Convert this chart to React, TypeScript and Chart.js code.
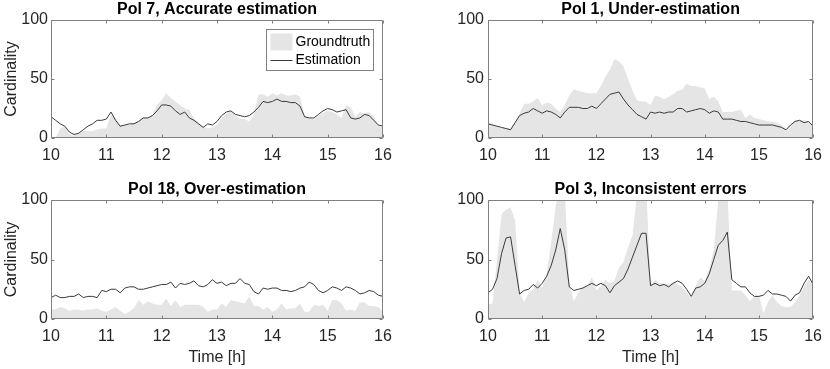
import React, { useEffect, useRef } from "react";
import { Chart, registerables } from "chart.js";

Chart.register(...registerables);

// ---- data (cardinality sampled every 5 minutes, 10:00 - 16:00) ----
const START_HOUR = 10;
const SAMPLES_PER_HOUR = 12;
const HOUR_TICKS = [10, 11, 12, 13, 14, 15, 16];
const CARD_TICKS = [0, 50, 100];

const P7_GT = [
  0, 0, 8, 10, 3, 2, 4, 6, 6, 6, 7, 8,
  8, 20, 17, 11, 11, 11, 13, 15, 18, 17, 20, 28,
  32, 38, 34, 31, 28, 25, 24, 17, 13, 10, 8, 9,
  11, 17, 20, 23, 19, 16, 16, 14, 20, 37, 37, 35,
  38, 36, 38, 36, 36, 37, 35, 19, 17, 16, 19, 21,
  23, 22, 20, 17, 28, 26, 18, 22, 21, 22, 18, 11,
  8,
];
const P7_EST = [
  18, 15, 12, 10, 5, 3, 4, 7, 10, 12, 15, 15,
  16, 22, 15, 10, 11, 12, 12, 14, 17, 17, 19, 23,
  28, 28, 27, 23, 20, 22, 17, 15, 12, 9, 12, 11,
  14, 19, 22, 23, 20, 19, 18, 19, 22, 26, 31, 30,
  31, 33, 31, 31, 30, 30, 27, 18, 17, 17, 20, 23,
  25, 24, 22, 23, 24, 17, 16, 17, 20, 19, 15, 11,
  10,
];

const P1_GT = [
  13, 12, 10, 9, 8, 8, 14, 21, 29, 29, 31, 34,
  28, 30, 29, 25, 22, 28, 36, 41, 40, 39, 38, 38,
  38, 44, 52, 58, 67, 65, 61, 50, 40, 32, 31, 31,
  28, 36, 35, 33, 35, 37, 40, 41, 46, 44, 44, 43,
  42, 33, 35, 31, 22, 22, 22, 23, 24, 17, 20, 17,
  16, 15, 14, 14, 13, 11, 7, 11, 15, 15, 15, 14,
  10,
];
const P1_EST = [
  12, 11, 10, 9, 8, 7, 13, 19, 21, 22, 25, 23,
  21, 23, 22, 20, 17, 22, 26, 26, 26, 25, 25, 27,
  25, 29, 33, 37, 38, 39, 33, 28, 24, 20, 18, 16,
  22, 21, 22, 21, 22, 22, 25, 25, 22, 23, 24, 25,
  24, 21, 23, 22, 16, 16, 16, 15, 14, 14, 13, 12,
  11, 11, 11, 11, 10, 9, 7, 11, 14, 15, 13, 14,
  10,
];

const P18_GT = [
  8, 8, 10, 9, 7, 8, 8, 7, 8, 8, 9, 7,
  6, 8, 10, 7, 4, 6, 9, 16, 12, 15, 13, 12,
  12, 17, 11, 16, 10, 12, 12, 12, 12, 10, 6, 8,
  8, 13, 10, 16, 15, 14, 13, 19, 11, 11, 8, 10,
  6, 8, 13, 8, 9, 9, 13, 6, 6, 12, 11, 12,
  7, 16, 16, 13, 7, 8, 7, 14, 14, 11, 11, 10,
  6,
];
const P18_EST = [
  18, 20, 18, 18, 19, 19, 21, 18, 19, 19, 18, 24,
  23, 25, 25, 22, 26, 27, 27, 25, 25, 26, 27, 28,
  29, 29, 31, 26, 30, 29, 30, 32, 28, 27, 29, 33,
  30, 31, 28, 30, 30, 34, 30, 29, 23, 21, 26, 25,
  26, 26, 24, 24, 23, 24, 26, 27, 31, 29, 24, 22,
  24, 27, 26, 24, 27, 26, 24, 21, 22, 24, 23, 20,
  19,
];

const P3_GT = [
  12, 13, 50, 88, 92, 94, 83, 22, 14, 22, 25, 33,
  26, 38, 65, 95, 115, 108, 30, 15, 22, 27, 28, 35,
  24, 28, 33, 30, 32, 43, 48, 60, 70, 105, 115, 115,
  28, 33, 30, 30, 29, 31, 29, 27, 22, 18, 28, 35,
  32, 42, 58, 100, 115, 110, 24, 24, 24, 20, 15, 19,
  20, 5, 14, 20, 14, 11, 10, 10, 14, 20, 27, 33,
  29,
];
const P3_EST = [
  22, 25, 34, 55, 68, 69, 45, 21, 24, 25, 29, 26,
  30, 36, 45, 58, 76, 58, 27, 24, 25, 26, 28, 30,
  28, 30, 28, 22, 28, 31, 34, 42, 52, 62, 72, 72,
  28, 30, 28, 29, 27, 30, 32, 30, 25, 19, 26, 27,
  30, 38, 50, 62, 66, 73, 33, 30, 27, 27, 22, 19,
  19, 20, 24, 21, 21, 20, 19, 15, 20, 22, 30, 36,
  29,
];

const GT_LABEL = "Groundtruth";
const EST_LABEL = "Estimation";

// ---- styling ----
const FONT = "'Liberation Sans', Arial, Helvetica, sans-serif";
const GT_COLOR = "#e5e5e5";
const EST_COLOR = "#3a3a3a";
const AXIS_COLOR = "#808080";
const TEXT_COLOR = "#262626";

type PanelSpec = {
  title: string;
  gt: number[];
  est: number[];
  left: number;
  top: number;
  width: number;
  height: number;
  yAxisWidth: number;
  xAxisHeight: number;
  padRight: number;
  yTitle: boolean;
  xTitle: boolean;
  legend: boolean;
  yTickPad: number;
};

const PANELS: PanelSpec[] = [
  { title: "Pol 7, Accurate estimation", gt: P7_GT, est: P7_EST, left: 0, top: 0, width: 415, height: 170, yAxisWidth: 51, xAxisHeight: 32, padRight: 32, yTitle: true, xTitle: false, legend: true, yTickPad: 3 },
  { title: "Pol 1, Under-estimation", gt: P1_GT, est: P1_EST, left: 415, top: 0, width: 415, height: 170, yAxisWidth: 73, xAxisHeight: 32, padRight: 10, yTitle: false, xTitle: false, legend: false, yTickPad: 4 },
  { title: "Pol 18, Over-estimation", gt: P18_GT, est: P18_EST, left: 0, top: 180, width: 415, height: 189, yAxisWidth: 51, xAxisHeight: 50, padRight: 32, yTitle: true, xTitle: true, legend: false, yTickPad: 3 },
  { title: "Pol 3, Inconsistent errors", gt: P3_GT, est: P3_EST, left: 415, top: 180, width: 415, height: 189, yAxisWidth: 73, xAxisHeight: 50, padRight: 10, yTitle: false, xTitle: true, legend: false, yTickPad: 4 },
];

function toPoints(values: number[]) {
  return values.map((v, i) => ({ x: START_HOUR + i / SAMPLES_PER_HOUR, y: v }));
}

const framePlugin = {
  id: "mlFrame",
  afterDatasetsDraw(chart: any) {
    const { ctx, chartArea: a, scales } = chart;
    const L = Math.round(a.left) + 0.5;
    const R = Math.round(a.right) - 0.5;
    const T = Math.round(a.top) + 0.5;
    const B = Math.round(a.bottom) - 0.5;
    const tl = 3;
    ctx.save();
    ctx.strokeStyle = AXIS_COLOR;
    ctx.lineWidth = 1;
    ctx.beginPath();
    ctx.rect(L, T, R - L, B - T);
    HOUR_TICKS.forEach((h) => {
      const px = Math.round(scales.x.getPixelForValue(h)) + 0.5;
      ctx.moveTo(px, B);
      ctx.lineTo(px, B - tl);
      ctx.moveTo(px, T);
      ctx.lineTo(px, T + tl);
    });
    CARD_TICKS.forEach((c) => {
      const py = Math.round(scales.y.getPixelForValue(c)) + 0.5;
      ctx.moveTo(L, py);
      ctx.lineTo(L + tl, py);
      ctx.moveTo(R, py);
      ctx.lineTo(R - tl, py);
    });
    ctx.stroke();
    ctx.restore();
  },
};

const legendPlugin = {
  id: "mlLegend",
  afterDraw(chart: any, _args: any, opts: any) {
    if (!opts || !opts.show) return;
    const { ctx, chartArea: a } = chart;
    const w = 107;
    const h = 41;
    const l = Math.round(a.right - 10.5 - w) + 0.5;
    const t = Math.round(a.top + 9) + 0.5;
    const ds = chart.data.datasets;
    const gt = ds.find((d: any) => d.label === GT_LABEL);
    const est = ds.find((d: any) => d.label === EST_LABEL);
    ctx.save();
    ctx.fillStyle = "#ffffff";
    ctx.fillRect(l, t, w, h);
    ctx.strokeStyle = AXIS_COLOR;
    ctx.lineWidth = 1;
    ctx.strokeRect(l, t, w, h);
    ctx.fillStyle = gt.backgroundColor;
    ctx.fillRect(l + 4, t + 4, 22, 17);
    ctx.strokeStyle = est.borderColor;
    ctx.beginPath();
    ctx.moveTo(l + 4, t + 31);
    ctx.lineTo(l + 26, t + 31);
    ctx.stroke();
    ctx.fillStyle = "#000";
    ctx.font = `14px ${FONT}`;
    ctx.textBaseline = "middle";
    ctx.textAlign = "left";
    ctx.fillText(gt.label, l + 29, t + 12.5);
    ctx.fillText(est.label, l + 29, t + 31);
    ctx.restore();
  },
};

function Panel({ spec }: { spec: PanelSpec }) {
  const ref = useRef<HTMLCanvasElement | null>(null);
  useEffect(() => {
    if (!ref.current) return;
    const chart = new Chart(ref.current, {
      type: "line",
      data: {
        datasets: [
          {
            label: EST_LABEL,
            data: toPoints(spec.est),
            borderColor: EST_COLOR,
            borderWidth: 1,
            pointRadius: 0,
            fill: false,
            tension: 0,
            order: 0,
          },
          {
            label: GT_LABEL,
            data: toPoints(spec.gt),
            backgroundColor: GT_COLOR,
            borderColor: GT_COLOR,
            borderWidth: 0,
            pointRadius: 0,
            fill: "origin",
            tension: 0,
            order: 1,
          },
        ],
      },
      options: {
        animation: false,
        responsive: false,
        maintainAspectRatio: false,
        events: [],
        layout: { padding: { left: 0, right: spec.padRight, top: 0, bottom: 0 } },
        plugins: {
          legend: { display: false },
          tooltip: { enabled: false },
          title: {
            display: true,
            text: spec.title,
            fullSize: false,
            color: "#000",
            font: { family: FONT, size: 16, weight: "bold" },
            padding: { top: 0, bottom: 0.8 },
          },
          mlLegend: { show: spec.legend },
        } as any,
        scales: {
          x: {
            type: "linear",
            min: 10,
            max: 16,
            grid: { display: false, drawTicks: false },
            border: { display: false },
            ticks: {
              stepSize: 1,
              autoSkip: false,
              maxRotation: 0,
              padding: 8,
              color: TEXT_COLOR,
              font: { family: FONT, size: 16 },
            },
            title: {
              display: spec.xTitle,
              text: "Time [h]",
              color: TEXT_COLOR,
              font: { family: FONT, size: 16 },
              padding: { top: 0, bottom: 2 },
            },
            afterFit: (s: any) => {
              s.height = spec.xAxisHeight;
            },
          },
          y: {
            type: "linear",
            min: 0,
            max: 100,
            grid: { display: false, drawTicks: false },
            border: { display: false },
            ticks: {
              stepSize: 50,
              padding: spec.yTickPad,
              color: TEXT_COLOR,
              font: { family: FONT, size: 16 },
            },
            title: {
              display: spec.yTitle,
              text: "Cardinality",
              color: TEXT_COLOR,
              font: { family: FONT, size: 16 },
              padding: { top: 1.5, bottom: 0 },
            },
            afterFit: (s: any) => {
              s.width = spec.yAxisWidth;
            },
          },
        },
      } as any,
      plugins: [framePlugin, legendPlugin],
    });
    return () => chart.destroy();
  }, [spec]);
  return (
    <canvas
      ref={ref}
      width={spec.width}
      height={spec.height}
      style={{ position: "absolute", left: spec.left, top: spec.top, width: spec.width, height: spec.height }}
    />
  );
}

export default function App() {
  return (
    <div style={{ position: "fixed", left: 0, top: 0, width: 830, height: 369, background: "#fff", overflow: "hidden" }}>
      {PANELS.map((p) => (
        <Panel key={p.title} spec={p} />
      ))}
    </div>
  );
}
